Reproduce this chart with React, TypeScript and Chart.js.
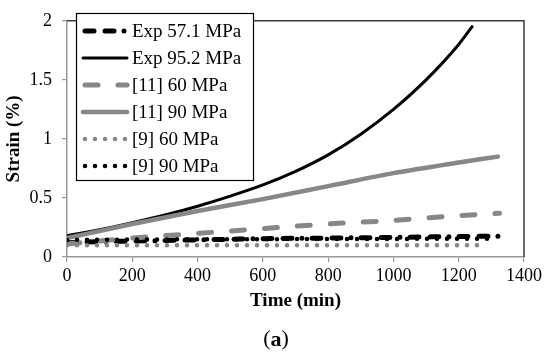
import React, { useEffect, useRef } from 'react';
import { Chart, registerables } from 'chart.js';
Chart.register(...registerables);

// ---- data ----
const exp57Time = [0, 100, 200, 300, 400, 500, 600, 700, 800, 900, 1000, 1100, 1200, 1335];
const exp57Strain = [0.12, 0.13, 0.135, 0.14, 0.145, 0.15, 0.155, 0.158, 0.16, 0.163, 0.166, 0.17, 0.173, 0.177];

const exp95Time = [0, 100, 200, 300, 400, 500, 600, 700, 800, 900, 1000, 1100, 1200, 1241];
const exp95Strain = [0.18, 0.23, 0.29, 0.355, 0.43, 0.515, 0.61, 0.725, 0.865, 1.04, 1.25, 1.5, 1.8, 1.95];

const ref11_60Time = [0, 200, 400, 600, 800, 1000, 1200, 1325];
const ref11_60Strain = [0.11, 0.16, 0.2, 0.24, 0.28, 0.31, 0.35, 0.37];

const ref11_90Time = [0, 200, 400, 600, 800, 1000, 1200, 1320];
const ref11_90Strain = [0.16, 0.28, 0.39, 0.49, 0.6, 0.71, 0.8, 0.85];

const ref9_60Time = [0, 400, 800, 1286];
const ref9_60Strain = [0.1, 0.1, 0.1, 0.1];

const ref9_90Time = [0, 400, 800, 1290];
const ref9_90Strain = [0.145, 0.15, 0.152, 0.155];

const seriesLabels = ['Exp 57.1 MPa', 'Exp 95.2 MPa', '[11] 60 MPa', '[11] 90 MPa', '[9] 60 MPa', '[9] 90 MPa'];
const xTicks = [0, 200, 400, 600, 800, 1000, 1200, 1400];
const yTicks = [0, 0.5, 1, 1.5, 2];

const xTitle = 'Time (min)';
const yTitle = 'Strain (%)';

const BLACK = '#000000';
const GRAY = '#878787';
const FONT = '"Liberation Serif", "Times New Roman", serif';

const pts = (t: number[], v: number[]) => t.map((x, i) => ({ x, y: v[i] }));

const styles = [
  { color: BLACK, width: 5, dash: [9, 11, 9, 10, 0, 10] },
  { color: BLACK, width: 3, dash: [] as number[] },
  { color: GRAY, width: 5, dash: [13, 20] },
  { color: GRAY, width: 4.5, dash: [] as number[] },
  { color: GRAY, width: 4.5, dash: [0, 10] },
  { color: BLACK, width: 4.5, dash: [0, 10] },
];

const seriesData = [
  pts(exp57Time, exp57Strain),
  pts(exp95Time, exp95Strain),
  pts(ref11_60Time, ref11_60Strain),
  pts(ref11_90Time, ref11_90Strain),
  pts(ref9_60Time, ref9_60Strain),
  pts(ref9_90Time, ref9_90Strain),
];

const decorPlugin = {
  id: 'decor',
  afterDraw(chart: any) {
    const { ctx, chartArea: a } = chart;
    ctx.save();
    // plot area border top/right
    ctx.strokeStyle = '#3a3a3a';
    ctx.lineWidth = 1.5;
    ctx.setLineDash([]);
    ctx.beginPath();
    ctx.moveTo(a.left, a.top);
    ctx.lineTo(a.right, a.top);
    ctx.lineTo(a.right, a.bottom);
    ctx.stroke();

    // legend
    const lx = 76, ly = 13, lw = 177, lh = 167;
    ctx.fillStyle = '#ffffff';
    ctx.fillRect(lx, ly, lw, lh);
    ctx.strokeStyle = '#000000';
    ctx.lineWidth = 1.2;
    ctx.strokeRect(lx + 0.5, ly + 0.5, lw, lh);
    ctx.font = `19px ${FONT}`;
    ctx.textAlign = 'left';
    ctx.textBaseline = 'middle';
    seriesLabels.forEach((lab, i) => {
      const y = 31 + i * 27;
      const s = styles[i];
      ctx.save();
      ctx.strokeStyle = s.color;
      ctx.lineWidth = s.width;
      ctx.lineCap = 'round';
      ctx.setLineDash(s.dash);
      ctx.beginPath();
      const x0 = s.dash.length ? 85 : 83;
      ctx.moveTo(x0, y);
      ctx.lineTo(127, y);
      ctx.stroke();
      ctx.restore();
      ctx.fillStyle = '#000';
      ctx.fillText(lab, 132, y + 1);
    });

    // axis titles
    ctx.fillStyle = '#000';
    ctx.font = `bold 19px ${FONT}`;
    ctx.textAlign = 'center';
    ctx.textBaseline = 'middle';
    ctx.fillText(xTitle, (a.left + a.right) / 2, 301);
    ctx.save();
    ctx.translate(14, (a.top + a.bottom) / 2);
    ctx.rotate(-Math.PI / 2);
    ctx.fillText(yTitle, 0, 0);
    ctx.restore();

    // (a)
    ctx.font = `22px ${FONT}`;
    const pw = ctx.measureText('(').width;
    ctx.font = `bold 22px ${FONT}`;
    const aw = ctx.measureText('a').width;
    const total = pw * 2 + aw;
    let x = 276 - total / 2;
    ctx.textAlign = 'left';
    ctx.font = `22px ${FONT}`;
    ctx.fillText('(', x, 339);
    x += pw;
    ctx.font = `bold 22px ${FONT}`;
    ctx.fillText('a', x, 340);
    x += aw;
    ctx.font = `22px ${FONT}`;
    ctx.fillText(')', x, 339);
    ctx.restore();
  },
};

export default function App() {
  const ref = useRef<HTMLCanvasElement>(null);
  useEffect(() => {
    if (!ref.current) return;
    const chart = new Chart(ref.current, {
      type: 'line',
      data: {
        datasets: seriesData.map((d, i) => ({
          label: seriesLabels[i],
          data: d,
          borderColor: styles[i].color,
          backgroundColor: styles[i].color,
          borderWidth: styles[i].width,
          borderDash: styles[i].dash,
          borderCapStyle: 'round' as const,
          borderJoinStyle: 'round' as const,
          cubicInterpolationMode: 'monotone' as const,
          pointRadius: 0,
          fill: false,
          order: 6 - i,
        })),
      },
      options: {
        responsive: false,
        animation: false,
        layout: { padding: { left: 0, top: 9, right: 26, bottom: 0 } },
        plugins: { legend: { display: false }, tooltip: { enabled: false } },
        scales: {
          x: {
            type: 'linear',
            min: 0,
            max: 1400,
            afterBuildTicks: (s: any) => { s.ticks = xTicks.map((v) => ({ value: v })); },
            afterFit: (s: any) => { s.height = 100; },
            ticks: {
              color: '#000',
              font: { family: FONT, size: 18 },
              padding: 3,
              maxRotation: 0,
              callback: (v: any) => String(v),
            },
            grid: { drawOnChartArea: false, drawTicks: true, tickLength: 5, color: '#999', lineWidth: 1.2 },
            border: { display: true, color: '#999', width: 1.5 },
          },
          y: {
            type: 'linear',
            min: 0,
            max: 2,
            afterBuildTicks: (s: any) => { s.ticks = yTicks.map((v) => ({ value: v })); },
            afterFit: (s: any) => { s.width = 67; },
            ticks: {
              color: '#000',
              font: { family: FONT, size: 18 },
              padding: 10,
              callback: (v: any) => String(v),
            },
            grid: { drawOnChartArea: false, drawTicks: true, tickLength: 5, color: '#999', lineWidth: 1.2 },
            border: { display: true, color: '#999', width: 1.5 },
          },
        },
      },
      plugins: [decorPlugin],
    });
    return () => chart.destroy();
  }, []);
  return (
    <div style={{ position: 'fixed', left: 0, top: 0, width: 550, height: 357, background: '#fff' }}>
      <canvas ref={ref} width={550} height={357} style={{ display: 'block' }} />
    </div>
  );
}
